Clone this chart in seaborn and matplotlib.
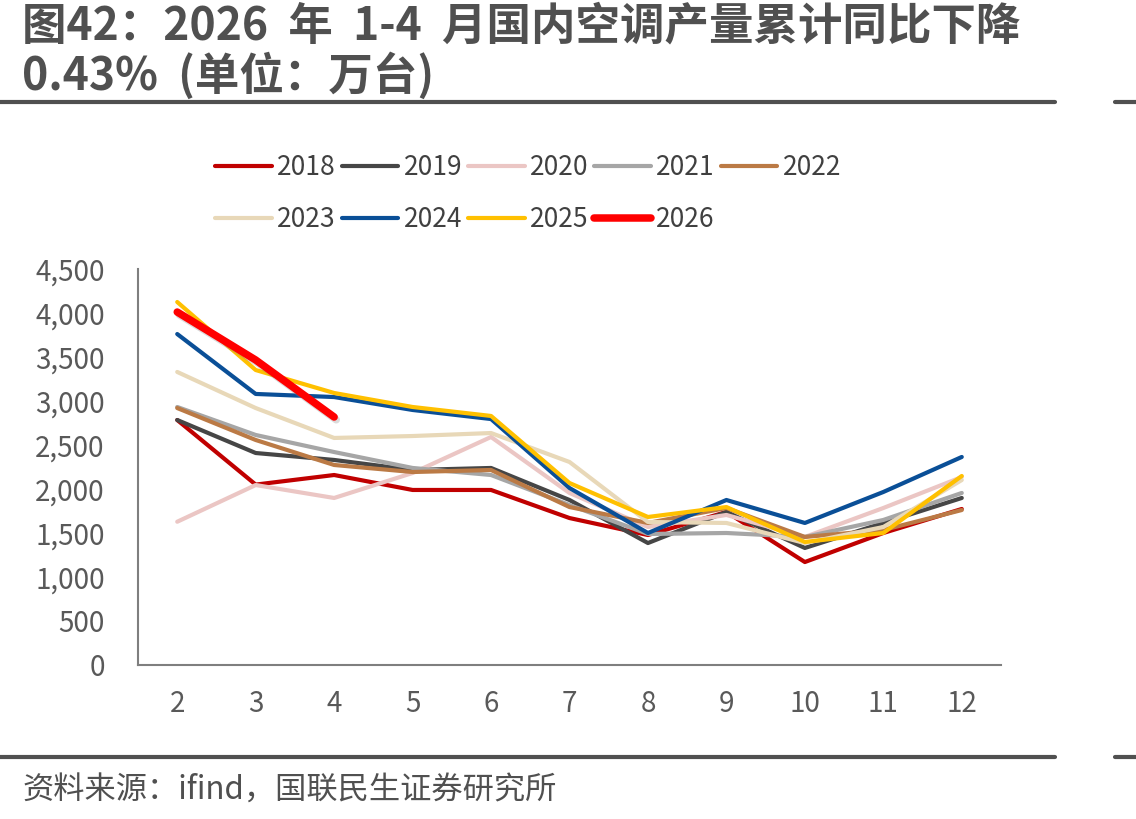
import seaborn as sns
import matplotlib.pyplot as plt
import matplotlib.patheffects as pe
import pandas as pd

# -------------------------------
# Data (万台, cumulative by month)
# -------------------------------
months = [2, 3, 4, 5, 6, 7, 8, 9, 10, 11, 12]

y2018 = [2784, 2050, 2159, 1989, 1989, 1670, 1477, 1739, 1170, 1500, 1773]
y2019 = [2784, 2409, 2330, 2216, 2239, 1875, 1386, 1739, 1330, 1614, 1898]
y2020 = [1628, 2045, 1898, 2182, 2591, 1955, 1568, 1705, 1455, 1784, 2136]
y2021 = [2932, 2614, 2420, 2239, 2159, 1818, 1489, 1500, 1455, 1648, 1955]
y2022 = [2920, 2557, 2273, 2193, 2216, 1795, 1614, 1784, 1455, 1534, 1761]
y2023 = [3330, 2920, 2580, 2602, 2636, 2307, 1625, 1614, 1386, 1568, 2102]
y2024 = [3761, 3080, 3045, 2898, 2795, 2011, 1500, 1875, 1614, 1966, 2364]
y2025 = [4125, 3352, 3091, 2932, 2830, 2068, 1682, 1795, 1398, 1500, 2148]
y2026 = [4011, 3466, 2818]

series = {
    "2018": y2018, "2019": y2019, "2020": y2020, "2021": y2021, "2022": y2022,
    "2023": y2023, "2024": y2024, "2025": y2025, "2026": y2026,
}

colors = {
    "2018": "#C00000", "2019": "#464646", "2020": "#EBC6C4", "2021": "#A6A6A6",
    "2022": "#BB7A45", "2023": "#E8D8B8", "2024": "#0A4F97", "2025": "#FFC000",
    "2026": "#FF0000",
}

title = "图42：2026  年  1-4  月国内空调产量累计同比下降\n0.43%  (单位：万台)"
source = "资料来源：ifind，国联民生证券研究所"

# -------------------------------
# Style
# -------------------------------
sns.set_style("white")
plt.rcParams["font.family"] = ["Noto Sans CJK SC", "DejaVu Sans"]

fig = plt.figure(figsize=(11.36, 8.19), dpi=100)
ax = fig.add_axes([138 / 1136, 1 - 665 / 819, (1001 - 138) / 1136, (665 - 269) / 819])

handles = {}
for year, vals in series.items():
    df = pd.DataFrame({"month": months[:len(vals)], "value": vals})
    lw = 5.4 if year == "2026" else 3.0
    sns.lineplot(data=df, x="month", y="value", ax=ax, color=colors[year],
                 linewidth=lw, label=year, legend=False)
    line = ax.lines[-1]
    line.set_solid_capstyle("round")
    line.set_solid_joinstyle("round")
    if year == "2026":
        line.set_path_effects([
            pe.SimpleLineShadow(offset=(1.5, -2), shadow_color="#888888", alpha=0.3),
            pe.Normal(),
        ])
    handles[year] = line

ax.set_xlim(1.5, 12.5)
ax.set_ylim(0, 4500)
ax.set_xticks(months)
ax.set_yticks(range(0, 4501, 500))
ax.set_yticklabels([f"{v:,}" for v in range(0, 4501, 500)])
ax.set_xlabel("")
ax.set_ylabel("")
ax.tick_params(axis="both", length=0, labelsize=20, colors="#595959")
ax.tick_params(axis="y", pad=24)
ax.tick_params(axis="x", pad=17)

for side in ["top", "right"]:
    ax.spines[side].set_visible(False)
for side in ["left", "bottom"]:
    ax.spines[side].set_color("#7f7f7f")
    ax.spines[side].set_linewidth(1.5)

# legend: row-major display using column-major filling
order = ["2018", "2023", "2019", "2024", "2020", "2025", "2021", "2026", "2022"]
leg = fig.legend([handles[k] for k in order], order, ncol=5, frameon=False,
                 loc="upper left", bbox_to_anchor=(215 / 1136, 1 - 154 / 819),
                 fontsize=19, handlelength=2.15, handletextpad=0.2,
                 columnspacing=0.22, labelspacing=0.95, borderpad=0,
                 borderaxespad=0)
for t in leg.get_texts():
    t.set_color("#404040")
for h in leg.legend_handles:
    h.set_path_effects([])

# title and source
fig.text(22 / 1136, 1 - 3 / 819, title, ha="left", va="top", fontsize=32,
         fontweight="bold", color="#505050", linespacing=1.08)
fig.text(22 / 1136, 1 - 791 / 819, source, ha="left", va="center",
         fontsize=22.5, color="#505050")

# separator rules
for yy in [102, 757]:
    y = 1 - yy / 819
    fig.add_artist(plt.Line2D([0, 1055 / 1136], [y, y], color="#505050", lw=3))
    fig.add_artist(plt.Line2D([1115 / 1136, 1], [y, y], color="#505050", lw=3))

plt.savefig("out.png", dpi=100)
plt.close()
